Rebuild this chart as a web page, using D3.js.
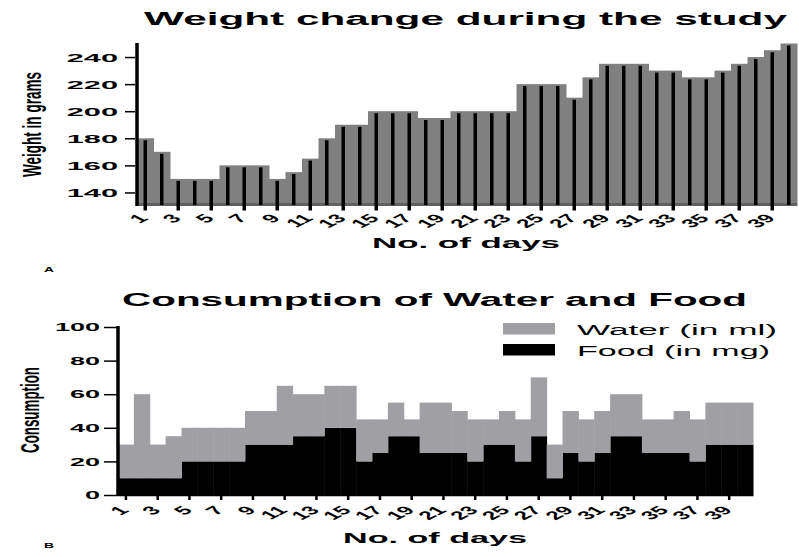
<!DOCTYPE html>
<html>
<head>
<meta charset="utf-8">
<script src="https://cdn.jsdelivr.net/npm/d3@7"></script>
<style>
    body { margin: 0; background: #fff; }
    svg { display: block; font-family: "Liberation Sans", Arial, sans-serif; }
</style>
</head>
<body>
<div id="chart"></div>
<script>
// Data
const days = d3.range(1, 41);
const weight = [180, 170, 150, 150, 150, 160, 160, 160, 150, 155,
                165, 180, 190, 190, 200, 200, 200, 195, 195, 200,
                200, 200, 200, 220, 220, 220, 210, 225, 235, 235,
                235, 230, 230, 225, 225, 230, 235, 240, 245, 250];
const food = [10, 10, 10, 10, 20, 20, 20, 20, 30, 30,
              30, 35, 35, 40, 40, 20, 25, 35, 35, 25,
              25, 25, 20, 30, 30, 20, 35, 10, 25, 20,
              25, 35, 35, 25, 25, 25, 20, 30, 30, 30];
const water = [20, 50, 20, 25, 20, 20, 20, 20, 20, 20,
               35, 25, 25, 25, 25, 25, 20, 20, 10, 30,
               30, 25, 25, 15, 20, 25, 35, 20, 25, 25,
               25, 25, 25, 20, 20, 25, 25, 25, 25, 25];
const weightTicks = [140, 160, 180, 200, 220, 240];
const consTicks = [0, 20, 40, 60, 80, 100];
const dayTicks = days.filter(d => d % 2 === 1);

const svg = d3.select("#chart").append("svg")
    .attr("width", 799)
    .attr("height", 557);

// stretched text helper (the figure is squeezed wide)
function wideText(g, x, y, str, size, len, weight) {
    return g.append("text")
        .attr("x", x).attr("y", y)
        .attr("font-size", size)
        .attr("font-weight", weight || "bold")
        .attr("textLength", len)
        .attr("lengthAdjust", "spacingAndGlyphs")
        .text(str);
}

// rotated day labels, stretched sideways like the rest of the figure
function dayLabels(x, y0) {
    svg.append("g").selectAll("text")
        .data(dayTicks)
        .join("text")
        .attr("text-anchor", "end")
        .attr("font-size", 12).attr("font-weight", "bold")
        .attr("transform", d => `translate(${x(d) + x.bandwidth() / 2 + 4},${y0}) scale(2,1) rotate(-45)`)
        .text(d => d);
}

// ---------- Panel A: weight ----------
const xA = d3.scaleBand().domain(days).range([137, 797]).padding(0);
const yA = d3.scaleLinear().domain([130, 250]).range([206, 43.5]);

wideText(svg, 144, 25, "Weight change during the study", 18, 643);

svg.append("g").selectAll("rect")
    .data(days)
    .join("rect")
    .attr("x", d => xA(d))
    .attr("y", d => yA(weight[d - 1]))
    .attr("width", xA.bandwidth() + 0.5)
    .attr("height", d => yA(130) - yA(weight[d - 1]))
    .attr("fill", "#808080");

// dark base line under the bars
svg.append("line")
    .attr("x1", 137).attr("x2", 797)
    .attr("y1", 204.5).attr("y2", 204.5)
    .attr("stroke", "#606060").attr("stroke-width", 3);

// black lines through each bar (odd days run down as ticks)
svg.append("g").selectAll("line")
    .data(days)
    .join("line")
    .attr("x1", d => xA(d) + xA.bandwidth() / 2)
    .attr("x2", d => xA(d) + xA.bandwidth() / 2)
    .attr("y1", d => yA(weight[d - 1]) + 2)
    .attr("y2", d => d % 2 === 1 ? 210.5 : 205)
    .attr("stroke", "#000").attr("stroke-width", 3.5);

const axA = svg.append("g")
    .attr("transform", "translate(137,0)")
    .call(d3.axisLeft(yA).tickValues(weightTicks).tickSize(12).tickSizeOuter(0));
axA.select(".domain").remove();
axA.selectAll(".tick line").attr("x2", -12).attr("x1", -2).attr("stroke-width", 1.5);
axA.selectAll(".tick text")
    .attr("x", 0).attr("dy", "0.36em")
    .attr("font-size", 11.6).attr("font-weight", "bold")
    .attr("font-family", "Liberation Sans, Arial, sans-serif")
    .attr("transform", "translate(-19,0) scale(2.65,1)");
svg.append("line")
    .attr("x1", 137).attr("x2", 137).attr("y1", 43).attr("y2", 206)
    .attr("stroke", "#000").attr("stroke-width", 3.5);

dayLabels(xA, 219);

wideText(svg, 372, 248, "No. of days", 14.5, 188);
svg.append("text")
    .attr("font-size", 13).attr("font-weight", "bold")
    .attr("textLength", 105).attr("lengthAdjust", "spacingAndGlyphs")
    .attr("text-anchor", "middle")
    .attr("transform", "translate(41,124.5) scale(2,1) rotate(-90)")
    .text("Weight in grams");
wideText(svg, 44, 272, "A", 7, 10);

// ---------- Panel B: consumption ----------
const xB = d3.scaleBand().domain(days).range([118, 753]).padding(0);
const yB = d3.scaleLinear().domain([0, 100]).range([495, 327]);

wideText(svg, 122, 306, "Consumption of Water and Food", 17.5, 625);

const stacked = d3.stack().keys(["food", "water"])(
    days.map((d, i) => ({ day: d, food: food[i], water: water[i] })));
const fills = { food: "#000000", water: "#a0a0a4" };

svg.append("g").selectAll("g")
    .data(stacked)
    .join("g")
    .attr("fill", s => fills[s.key])
    .selectAll("rect")
    .data(s => s)
    .join("rect")
    .attr("x", p => xB(p.data.day))
    .attr("y", p => yB(p[1]))
    .attr("width", xB.bandwidth() + 0.5)
    .attr("height", p => yB(p[0]) - yB(p[1]));

const axB = svg.append("g")
    .attr("transform", "translate(118,0)")
    .call(d3.axisLeft(yB).tickValues(consTicks).tickSize(14).tickSizeOuter(0));
axB.select(".domain").remove();
axB.selectAll(".tick line").attr("stroke-width", 1.5);
axB.selectAll(".tick text")
    .attr("x", 0).attr("dy", "0.36em")
    .attr("font-size", 10.2).attr("font-weight", "bold")
    .attr("font-family", "Liberation Sans, Arial, sans-serif")
    .attr("transform", "translate(-18,0) scale(2.65,1)");
svg.append("line")
    .attr("x1", 118).attr("x2", 118).attr("y1", 326).attr("y2", 496)
    .attr("stroke", "#000").attr("stroke-width", 3.5);

const axBx = svg.append("g")
    .attr("transform", "translate(0,495)")
    .call(d3.axisBottom(xB).tickValues(dayTicks).tickSize(5).tickSizeOuter(0));
axBx.select(".domain").attr("stroke-width", 1.5);
axBx.selectAll(".tick line").attr("stroke-width", 2.5);
axBx.selectAll(".tick text").remove();

dayLabels(xB, 511);

wideText(svg, 343, 543, "No. of days", 14.5, 184);
svg.append("text")
    .attr("font-size", 13).attr("font-weight", "bold")
    .attr("textLength", 86).attr("lengthAdjust", "spacingAndGlyphs")
    .attr("text-anchor", "middle")
    .attr("transform", "translate(39,410) scale(2,1) rotate(-90)")
    .text("Consumption");
wideText(svg, 44, 548, "B", 7, 10);

// legend
const legend = [
    { name: "Water (in ml)", key: "water", y: 323, len: 200 },
    { name: "Food (in mg)", key: "food", y: 344, len: 193 }
];
const lg = svg.append("g");
lg.selectAll("rect")
    .data(legend)
    .join("rect")
    .attr("x", 503).attr("y", d => d.y)
    .attr("width", 52).attr("height", 11.5)
    .attr("fill", d => fills[d.key]);
legend.forEach(d => wideText(lg, 577, d.y + 12, d.name, 14, d.len, "normal"));
</script>
</body>
</html>
